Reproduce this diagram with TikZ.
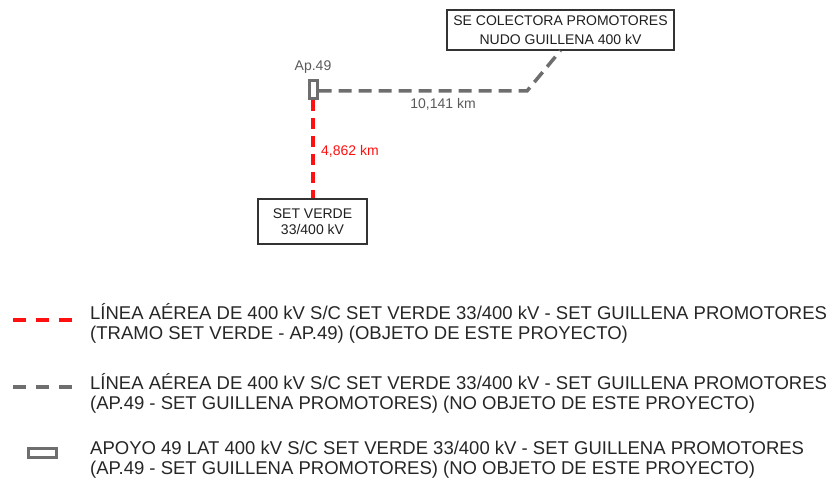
\documentclass[tikz,border=0pt]{standalone}
\usepackage{fontspec}
\setmainfont{Liberation Sans}
\definecolor{lred}{HTML}{FF1010}
\definecolor{lgray}{HTML}{6E6E6E}
\definecolor{tgray}{HTML}{5A5A5A}
\definecolor{boxc}{HTML}{333333}
\tikzset{
  stationbox/.style={draw=boxc, line width=1.2pt, fill=white, inner sep=0pt, align=center, text=black!88, font=\fontsize{14}{16.5}\selectfont},
  redline/.style={draw=lred, line width=3.5pt, dash pattern=on 11pt off 7pt},
  grayline/.style={draw=lgray, line width=3.5pt, dash pattern=on 13pt off 7pt},
  legred/.style={draw=lred, line width=4pt, dash pattern=on 13pt off 10pt},
  leggray/.style={draw=lgray, line width=4pt, dash pattern=on 13pt off 10pt},
  apoyo/.style={draw=lgray, line width=3pt, fill=white, inner sep=0pt},
  legtext/.style={anchor=west, align=left, inner sep=0pt, text=black!85, font=\fontsize{18.5}{19.5}\selectfont},
  lbl/.style={inner sep=0pt, font=\fontsize{14}{16}\selectfont}
}
\begin{document}
\begin{tikzpicture}[x=1pt,y=-1pt]
\useasboundingbox (0,0) rectangle (832,481);
% nodes
\node[stationbox, minimum width=227pt, minimum height=40pt, font=\fontsize{14}{19}\selectfont] (col) at (560.5,30) {SE COLECTORA PROMOTORES\\NUDO GUILLENA 400 kV};
\node[stationbox, minimum width=109pt, minimum height=45pt] (verde) at (312.5,221.5) {SET VERDE\\33/400 kV};
\coordinate (bend) at (527,91);
% lines
\path (313,89.5) node[apoyo, minimum width=8pt, minimum height=18pt] (ap) {};
\draw[redline] (ap.south) -- (verde.north -| ap.south);
\draw[grayline] (ap.east |- bend) -- (bend) -- (col.south);
\node[apoyo, minimum width=8pt, minimum height=18pt] (ap2) at (313,89.5) {};
% labels
\node[lbl, text=tgray] (aplbl) at (313,67) {Ap.49};
\node[lbl, text=tgray] (dist1) at (443,104) {10,141 km};
\node[lbl, text=lred, anchor=west] (dist2) at (321,151) {4,862 km};
% legend
\coordinate (r1) at (13,320); \coordinate (r2) at (72,320);
\draw[legred] (r1) -- (r2);
\node[legtext] (t1) at (90,323.5) {LÍNEA AÉREA DE 400 kV S/C SET VERDE 33/400 kV - SET GUILLENA PROMOTORES\\(TRAMO SET VERDE - AP.49) (OBJETO DE ESTE PROYECTO)};
\coordinate (g1) at (13,387); \coordinate (g2) at (72,387);
\draw[leggray] (g1) -- (g2);
\node[legtext] (t2) at (90,393.5) {LÍNEA AÉREA DE 400 kV S/C SET VERDE 33/400 kV - SET GUILLENA PROMOTORES\\(AP.49 - SET GUILLENA PROMOTORES) (NO OBJETO DE ESTE PROYECTO)};
\node[apoyo, minimum width=28pt, minimum height=9pt] (legap) at (42,453) {};
\node[legtext] (t3) at (90,459.5) {APOYO 49 LAT 400 kV S/C SET VERDE 33/400 kV - SET GUILLENA PROMOTORES\\(AP.49 - SET GUILLENA PROMOTORES) (NO OBJETO DE ESTE PROYECTO)};
\end{tikzpicture}
\end{document}
